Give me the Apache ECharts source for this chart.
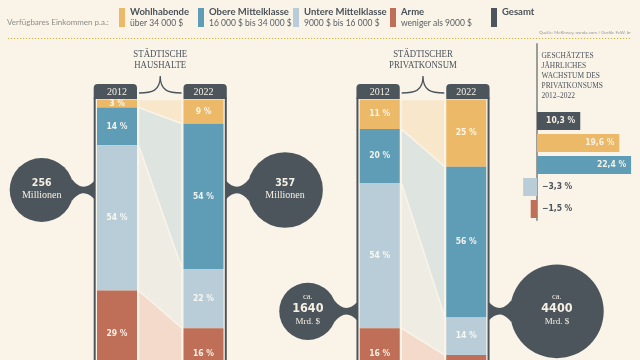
<!DOCTYPE html>
<html><head><meta charset="utf-8">
<script src="https://cdn.jsdelivr.net/npm/echarts@6/dist/echarts.min.js"></script>
<style>html,body{margin:0;padding:0;background:#f9f3e8;}#c{width:640px;height:360px;}</style>
</head><body><div id="c"></div>
<script>
// ---------- DATA ----------
const groups = ['Wohlhabende', 'Obere Mittelklasse', 'Untere Mittelklasse', 'Arme'];
const groupRanges = ['über 34 000 $', '16 000 $ bis 34 000 $', '9000 $ bis 16 000 $', 'weniger als 9000 $'];
const totalName = 'Gesamt';
const years = ['2012', '2022'];
const panelTitles = ['STÄDTISCHE\nHAUSHALTE', 'STÄDTISCHER\nPRIVATKONSUM'];
const haushalte2012 = [3, 14, 54, 29];
const haushalte2022 = [9, 54, 22, 16];
const konsum2012 = [11, 20, 54, 16];
const konsum2022 = [25, 56, 14, 5];
const haushalteTotals = [256, 357];
const haushalteUnit = 'Millionen';
const konsumTotals = [1640, 4400];
const konsumPrefix = 'ca.';
const konsumUnit = 'Mrd. $';
const growthTitle = 'GESCHÄTZTES\nJÄHRLICHES\nWACHSTUM DES\nPRIVATKONSUMS\n2012–2022';
const growthCategories = ['Gesamt', 'Wohlhabende', 'Obere Mittelklasse', 'Untere Mittelklasse', 'Arme'];
const growthValues = [10.3, 19.6, 22.4, -3.3, -1.5];
const legendTitle = 'Verfügbares Einkommen p.a.:';
const sourceText = 'Quelle: McKinsey, oanda.com / Grafik: FuW, br';

// ---------- STYLE ----------
const C = { bg: '#f9f3e8', dark: '#4c555c', grey: '#8e8e8a', cream: '#f6f0e4' };
const groupColors = ['#ebb968', '#5f9cb5', '#b8cdd8', '#bf6f57'];
const bandColors = ['#f8e7cb', '#dee4df', '#eeece3', '#f3dacb'];
const SERIF = "'Liberation Serif', 'DejaVu Serif', serif";
const SANS = "Lato, 'Noto Sans', sans-serif";
const NARROW = "'Liberation Sans Narrow', 'DejaVu Sans Condensed', Roboto, sans-serif";
const barW = 40, pxPerPct = 2.69, gridTop = 99.5;
const gridH = 360 - gridTop;            // grid fills to the bottom edge of the picture
const yMax = gridH / pxPerPct;          // visible part of the 0–100 % stack

const panelDefs = [
  { left: 73.75, title: panelTitles[0], a: haushalte2012, b: haushalte2022, totals: haushalteTotals, prefix: '', unit: haushalteUnit, k: 2.0, neckOffset: 90.5 },
  { left: 336.5, title: panelTitles[1], a: konsum2012, b: konsum2022, totals: konsumTotals, prefix: konsumPrefix, unit: konsumUnit, k: 0.706, neckOffset: 211.8 }
];

const sum = arr => arr.reduce((s, v) => s + v, 0);
function txt(x, y, text, o) {
  return { type: 'text', x: x, y: y, scaleX: o.scaleX || 1,
    style: { text: text, x: 0, y: 0, align: 'center', textAlign: 'center', verticalAlign: 'middle', textVerticalAlign: 'middle',
      fill: o.fill, fontSize: o.fontSize, fontFamily: o.fontFamily, fontWeight: o.fontWeight || 'normal', lineHeight: o.lineHeight } };
}
function neckPath(cx, cy, r, fx, dir) {
  const h = Math.min(11, r * 0.42);
  const ex = cx + dir * Math.sqrt(r * r - h * h);
  const hf = 9.5;
  const m1 = ex + dir * 8, m2 = fx - dir * 8;
  return `M${ex},${cy - h} C${m1},${cy - 1} ${m2},${cy - 1} ${fx},${cy - hf} L${fx},${cy + hf} C${m2},${cy + 1} ${m1},${cy + 1} ${ex},${cy + h} Z`;
}

function bandRender(pd) {
  return function (params, api) {
    const i = params.dataIndex;
    const s0 = sum(pd.a.slice(0, i)), e0 = s0 + pd.a[i];
    const s1 = sum(pd.b.slice(0, i)), e1 = s1 + pd.b[i];
    const xa = api.coord([0, 0])[0] + barW / 2 + 1.5;
    const xb = api.coord([1, 0])[0] - barW / 2 - 1.5;
    const y = v => api.coord([0, v])[1];
    return { type: 'polygon', shape: { points: [[xa, y(s0)], [xb, y(s1)], [xb, y(e1)], [xa, y(e0)]] },
      style: { fill: bandColors[i], stroke: C.bg, lineWidth: 1.5 } };
  };
}

function decoRender(pd) {
  return function (params, api) {
    const p0 = api.coord([0, 0]);
    const x0 = p0[0], top = p0[1];
    const x1 = api.coord([1, 0])[0];
    const bottom = api.coord([1, 102])[1];
    const half = barW / 2;
    const ch = [];
    // frames
    const fL = x0 - half - 3.3, fR = x1 + half + 1.3;
    ch.push({ type: 'rect', shape: { x: fL, y: top - 2, width: 2, height: bottom - top + 2 }, style: { fill: C.dark } });
    ch.push({ type: 'rect', shape: { x: fR, y: top - 2, width: 2, height: bottom - top + 2 }, style: { fill: C.dark } });
    // tabs
    const tabs = [[fL, x0 + half, x0], [x1 - half, fR + 2, x1]];
    tabs.forEach((t, i) => {
      ch.push({ type: 'rect', shape: { x: t[0], y: top - 15.5, width: t[1] - t[0], height: 15, r: [4, 4, 0, 0] }, style: { fill: C.dark } });
      ch.push(txt(t[2], top - 7.5, years[i], { fill: C.cream, fontSize: 10, fontFamily: SERIF }));
    });
    // bracket
    const bl = x0 + half + 2, br = x1 - half - 2, mid = (x0 + x1) / 2, by = top - 6.5, py = top - 23.5;
    ch.push({ type: 'path', shape: { pathData: `M${bl},${by} C${bl + 13},${by} ${mid},${by - 2} ${mid},${py} C${mid},${by - 2} ${br - 13},${by} ${br},${by}` },
      style: { fill: null, stroke: C.dark, lineWidth: 1.3 } });
    // title
    ch.push(txt(mid, top - 39.5, pd.title, { fill: C.dark, fontSize: 10, fontFamily: SERIF, lineHeight: 10.5, scaleX: 0.88 }));
    // total circles
    const cy = top + pd.neckOffset;
    const r0 = pd.k * Math.sqrt(pd.totals[0]), r1 = pd.k * Math.sqrt(pd.totals[1]);
    const c0 = fL - 20 - r0, c1 = fR + 2 + 20.5 + r1;
    [[c0, r0, fL + 1, 1], [c1, r1, fR + 1, -1]].forEach((c, i) => {
      ch.push({ type: 'path', shape: { pathData: neckPath(c[0], cy, c[1], c[2], c[3]) }, style: { fill: C.dark } });
      ch.push({ type: 'circle', shape: { cx: c[0], cy: cy, r: c[1] }, style: { fill: C.dark } });
      if (pd.prefix) {
        ch.push(txt(c[0], cy - 15, pd.prefix, { fill: C.cream, fontSize: 8.5, fontFamily: SERIF }));
        ch.push(txt(c[0], cy - 2.5, String(pd.totals[i]), { fill: C.cream, fontSize: 12.5, fontFamily: NARROW, fontWeight: 'bold' }));
        ch.push(txt(c[0], cy + 10, pd.unit, { fill: C.cream, fontSize: 9, fontFamily: SERIF }));
      } else {
        ch.push(txt(c[0], cy - 7, String(pd.totals[i]), { fill: C.cream, fontSize: 10.5, fontFamily: NARROW, fontWeight: 'bold' }));
        ch.push(txt(c[0], cy + 5, pd.unit, { fill: C.cream, fontSize: 10, fontFamily: SERIF }));
      }
    });
    return { type: 'group', children: ch };
  };
}

const grid = [], xAxis = [], yAxis = [], series = [];
panelDefs.forEach((pd, p) => {
  grid.push({ left: pd.left, top: gridTop, width: 173, height: gridH });
  xAxis.push({ type: 'category', gridIndex: p, data: years, show: false });
  yAxis.push({ type: 'value', gridIndex: p, min: 0, max: yMax, inverse: true, show: false });
  groups.forEach((g, i) => {
    series.push({ type: 'bar', name: g, xAxisIndex: p, yAxisIndex: p, stack: 'panel' + p, barWidth: barW, clip: false,
      data: [pd.a[i], pd.b[i]], itemStyle: { color: groupColors[i] }, z: 3,
      label: { show: true, position: 'inside', offset: [0, i === groups.length - 1 ? 4 : 0], formatter: o => o.value + ' %', color: 'rgba(255,252,244,0.9)',
        fontSize: 8.5, fontWeight: 'bold', fontFamily: NARROW } });
  });
  series.push({ type: 'custom', name: 'bands' + p, xAxisIndex: p, yAxisIndex: p, data: groups.map((g, i) => [0, i]),
    encode: { x: 0, y: 1 }, renderItem: bandRender(pd), z: 1, silent: true, clip: false });
  series.push({ type: 'custom', name: 'deco' + p, xAxisIndex: p, yAxisIndex: p, data: [[0, 0]],
    encode: { x: 0, y: 1 }, renderItem: decoRender(pd), z: 4, silent: true, clip: false });
});

// growth chart
grid.push({ left: 516, top: 44, width: 121.8, height: 176 });
xAxis.push({ type: 'value', gridIndex: 2, min: -5, max: 24, show: false });
yAxis.push({ type: 'category', gridIndex: 2, inverse: true, data: ['', '', ''].concat(growthCategories),
  axisLine: { show: true, onZero: true, lineStyle: { color: '#9c9c98', width: 2 } }, axisTick: { show: false }, axisLabel: { show: false } });
const growthColors = [C.dark].concat(groupColors);
const fmtPct = v => String(v).replace('.', ',').replace('-', '\u2212') + ' %';
growthCategories.forEach((c, i) => {
  const data = ['-', '-', '-'].concat(growthCategories.map((cc, j) => j === i ? {
    value: growthValues[i],
    label: { position: growthValues[i] >= 0 ? 'insideRight' : 'right', color: growthValues[i] >= 0 ? C.cream : C.dark }
  } : '-'));
  series.push({ type: 'bar', name: c, xAxisIndex: 2, yAxisIndex: 2, barWidth: 18, barGap: '-100%', data: data,
    itemStyle: { color: growthColors[i] },
    label: { show: true, distance: 5, formatter: o => fmtPct(o.value), fontSize: 8.5, fontWeight: 'bold', fontFamily: NARROW } });
});

const legendLefts = [119, 198, 293, 390, 491];
const legendNames = groups.concat([totalName]);
const legend = legendNames.map((n, i) => ({
  data: [n], left: legendLefts[i], top: 7, padding: 0, orient: 'horizontal', icon: 'rect', itemWidth: 6, itemHeight: 19,
  formatter: name => `{n|${name}}\n{r|${i < 4 ? groupRanges[i] : ' '}}`,
  textStyle: { rich: {
    n: { fontFamily: SANS, fontWeight: 'bold', fontSize: 9.5, color: '#4a5258', lineHeight: 11 },
    r: { fontFamily: SANS, fontSize: 8.5, color: '#5b6166', lineHeight: 11 } } }
}));

const option = {
  backgroundColor: C.bg,
  animation: false,
  title: [
    { text: legendTitle, left: 7, top: 18.5, padding: 0, textStyle: { fontSize: 8, color: C.grey, fontWeight: 'normal', fontFamily: SANS } },
    { text: sourceText, right: 9, top: 30.5, padding: 0, textStyle: { fontSize: 4.5, color: '#9a9a96', fontWeight: 'normal', fontFamily: SANS } }
  ],
  legend: legend,
  grid: grid, xAxis: xAxis, yAxis: yAxis, series: series,
  graphic: [
    { type: 'line', shape: { x1: 8, y1: 38.5, x2: 632, y2: 38.5 }, style: { stroke: '#c9b544', lineWidth: 1.2, lineDash: [1.2, 1.8] } },
    { type: 'text', x: 541.5, y: 50.5, scaleX: 0.93, style: { text: growthTitle, fill: C.dark, fontSize: 8, fontFamily: SERIF, lineHeight: 10.1 } }
  ]
};
const chart = echarts.init(document.getElementById('c'));
chart.setOption(option);
</script></body></html>
